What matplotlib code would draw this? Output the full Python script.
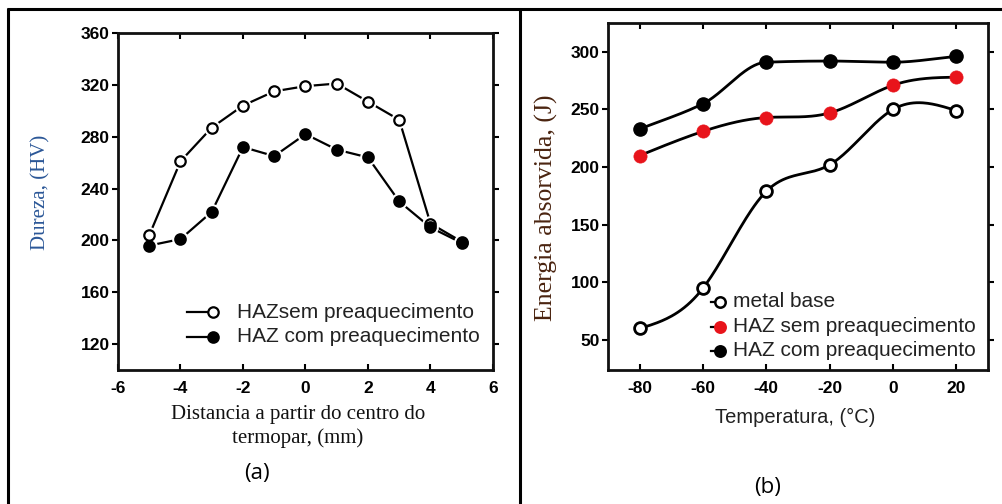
import numpy as np
import matplotlib
matplotlib.use("Agg")
import matplotlib.pyplot as plt
from matplotlib.lines import Line2D

plt.rcParams["axes.unicode_minus"] = False

# ---- (a) hardness profile across the HAZ ----
dist_mm = [-5, -4, -3, -2, -1, 0, 1, 2, 3, 4, 5]
hv_sem_preaq = [204, 261, 287, 304, 315, 319, 321, 307, 293, 213, 199]
hv_com_preaq = [196, 201, 222, 272, 265, 282, 270, 264, 230, 210, 198]
a_xticks = [-6, -4, -2, 0, 2, 4, 6]
a_yticks = [120, 160, 200, 240, 280, 320, 360]

# ---- (b) Charpy absorbed energy vs temperature ----
temp_c = [-80, -60, -40, -20, 0, 20]
e_metal_base = [60, 95, 179, 202, 250, 249]
e_haz_sem = [210, 231, 243, 247, 271, 278]
e_haz_com = [233, 255, 291, 292, 291, 296]
b_xticks = [-80, -60, -40, -20, 0, 20]
b_yticks = [50, 100, 150, 200, 250, 300]

SANS = ["Liberation Sans", "DejaVu Sans"]
SERIF = ["Liberation Serif", "DejaVu Serif"]
RED = "#e8141b"


def natural_spline(x, y, n=200):
    """Natural cubic spline through the given points."""
    x = np.asarray(x, float)
    y = np.asarray(y, float)
    k = len(x)
    h = np.diff(x)
    A = np.zeros((k, k))
    r = np.zeros(k)
    A[0, 0] = A[-1, -1] = 1.0
    for i in range(1, k - 1):
        A[i, i - 1] = h[i - 1]
        A[i, i] = 2 * (h[i - 1] + h[i])
        A[i, i + 1] = h[i]
        r[i] = 6 * ((y[i + 1] - y[i]) / h[i] - (y[i] - y[i - 1]) / h[i - 1])
    M = np.linalg.solve(A, r)
    xs = np.linspace(x[0], x[-1], n)
    idx = np.clip(np.searchsorted(x, xs) - 1, 0, k - 2)
    x0, x1 = x[idx], x[idx + 1]
    hh = h[idx]
    ys = (M[idx] * (x1 - xs) ** 3 / (6 * hh) + M[idx + 1] * (xs - x0) ** 3 / (6 * hh)
          + (y[idx] / hh - M[idx] * hh / 6) * (x1 - xs)
          + (y[idx + 1] / hh - M[idx + 1] * hh / 6) * (xs - x0))
    return xs, ys


def pchip(x, y, n=200):
    """Shape-preserving cubic through the given points."""
    x = np.asarray(x, float)
    y = np.asarray(y, float)
    h = np.diff(x)
    d = np.diff(y) / h
    m = np.zeros_like(y)
    for k in range(1, len(x) - 1):
        if d[k - 1] * d[k] > 0:
            w1 = 2 * h[k] + h[k - 1]
            w2 = h[k] + 2 * h[k - 1]
            m[k] = (w1 + w2) / (w1 / d[k - 1] + w2 / d[k])
    m[0] = d[0]
    m[-1] = d[-1]
    xs = np.linspace(x[0], x[-1], n)
    idx = np.clip(np.searchsorted(x, xs) - 1, 0, len(x) - 2)
    t = (xs - x[idx]) / h[idx]
    h00 = 2 * t**3 - 3 * t**2 + 1
    h10 = t**3 - 2 * t**2 + t
    h01 = -2 * t**3 + 3 * t**2
    h11 = t**3 - t**2
    ys = (h00 * y[idx] + h10 * h[idx] * m[idx]
          + h01 * y[idx + 1] + h11 * h[idx] * m[idx + 1])
    return xs, ys


def style_axes(ax):
    for s in ax.spines.values():
        s.set_linewidth(2.0)
        s.set_color("#111111")
    ax.tick_params(axis="y", direction="out", length=4, width=1.5,
                   right=True, pad=2, labelsize=12.5)
    ax.tick_params(axis="x", direction="in", length=4, width=1.5,
                   top=True, pad=8, labelsize=12.5)
    for lab in ax.get_xticklabels() + ax.get_yticklabels():
        lab.set_fontfamily(SANS)
        lab.set_fontweight("bold")


fig = plt.figure(figsize=(10.03, 5.04), dpi=100)
fig.patch.set_facecolor("white")

# ---------------- panel (a) ----------------
axa = fig.add_axes([118 / 1003, 1 - 370 / 504, 375 / 1003, 337 / 504])
axa.set_xlim(-6, 6)
axa.set_ylim(100, 360)
axa.set_xticks(a_xticks)
axa.set_yticks(a_yticks)
style_axes(axa)

axa.plot(dist_mm, hv_sem_preaq, color="black", lw=1.6, zorder=2)
axa.plot(dist_mm, hv_com_preaq, color="black", lw=1.6, zorder=2)
for yv, face in ((hv_sem_preaq, "white"), (hv_com_preaq, "black")):
    axa.plot(dist_mm, yv, ls="none", marker="o", ms=11, mfc="white",
             mec="white", zorder=3)
    axa.plot(dist_mm, yv, ls="none", marker="o", ms=7.5, mfc=face,
             mec="black", mew=1.6, zorder=4)

axa.set_ylabel("Dureza, (HV)", family=SERIF, fontsize=15, color="#2b5797")
axa.yaxis.set_label_coords(-0.181, 0.528)
axa.set_xlabel("Distancia a partir do centro do\ntermopar, (mm)",
               family=SERIF, fontsize=15, color="#111111", linespacing=1.25)
axa.xaxis.set_label_coords(0.48, -0.105)
axa.xaxis.label.set_verticalalignment("top")

# legend (a)
for ly, face, lab in ((0.172, "white", "HAZsem preaquecimento"),
                      (0.098, "black", "HAZ com preaquecimento")):
    axa.plot([0.184, 0.245], [ly, ly], transform=axa.transAxes,
             color="black", lw=1.6)
    axa.plot([0.253], [ly], transform=axa.transAxes, marker="o", ms=7.5,
             mfc=face, mec="black", mew=1.6)
    axa.text(0.317, ly, lab, transform=axa.transAxes, family=SANS,
             fontsize=15, va="center", ha="left", color="#222222")

# ---------------- panel (b) ----------------
axb = fig.add_axes([608 / 1003, 1 - 370 / 504, 380 / 1003, 347 / 504])
axb.set_xlim(-90, 30)
axb.set_ylim(24, 325)
axb.set_xticks(b_xticks)
axb.set_yticks(b_yticks)
style_axes(axb)

for yv, curve in ((e_metal_base, natural_spline),
                  (e_haz_sem, natural_spline),
                  (e_haz_com, pchip)):
    xs, ys = curve(temp_c, yv)
    axb.plot(xs, ys, color="black", lw=2.0, zorder=2)

axb.plot(temp_c, e_metal_base, ls="none", marker="o", ms=8.5, mfc="white",
         mec="black", mew=2.0, zorder=4)
axb.plot(temp_c, e_haz_sem, ls="none", marker="o", ms=9.5, mfc=RED,
         mec=RED, mew=0.5, zorder=4)
axb.plot(temp_c, e_haz_com, ls="none", marker="o", ms=9.5, mfc="black",
         mec="black", zorder=4)

axb.set_ylabel("Energia absorvida, (J)", family=SERIF, fontsize=18.5,
               color="#4a2410")
axb.yaxis.set_label_coords(-0.132, 0.467)
axb.set_xlabel("Temperatura, (°C)", family=SANS, fontsize=14.5,
               color="#222222")
axb.xaxis.set_label_coords(0.492, -0.138)
axb.xaxis.label.set_verticalalignment("center")

# legend (b)
for ly, face, edge, lab in ((0.196, "white", "black", "metal base"),
                            (0.124, RED, RED, "HAZ sem preaquecimento"),
                            (0.055, "black", "black", "HAZ com preaquecimento")):
    axb.plot([0.27, 0.295], [ly, ly], transform=axb.transAxes,
             color="black", lw=1.6)
    axb.plot([0.295], [ly], transform=axb.transAxes, marker="o", ms=7.5,
             mfc=face, mec=edge, mew=1.8)
    axb.text(0.329, ly, lab, transform=axb.transAxes, family=SANS,
             fontsize=15, va="center", ha="left", color="#222222")

# panel captions
fig.text(257 / 1003, 1 - 473 / 504, "(a)", family=["Open Sans", "DejaVu Sans"],
         fontsize=16, ha="center", va="center")
fig.text(768 / 1003, 1 - 488 / 504, "(b)", family=["Open Sans", "DejaVu Sans"],
         fontsize=16, ha="center", va="center")

# table-style frame around the two panels
W, H = 1003, 504
frame = dict(color="black", lw=2.2, solid_capstyle="butt",
             transform=fig.transFigure)
fig.add_artist(Line2D([7 / W, 1.0], [1 - 9 / H, 1 - 9 / H], **frame))
fig.add_artist(Line2D([8 / W, 8 / W], [0, 1 - 8 / H], **frame))
fig.add_artist(Line2D([520 / W, 520 / W], [0, 1 - 8 / H], **frame))

fig.savefig("out.png", dpi=100, facecolor="white")
